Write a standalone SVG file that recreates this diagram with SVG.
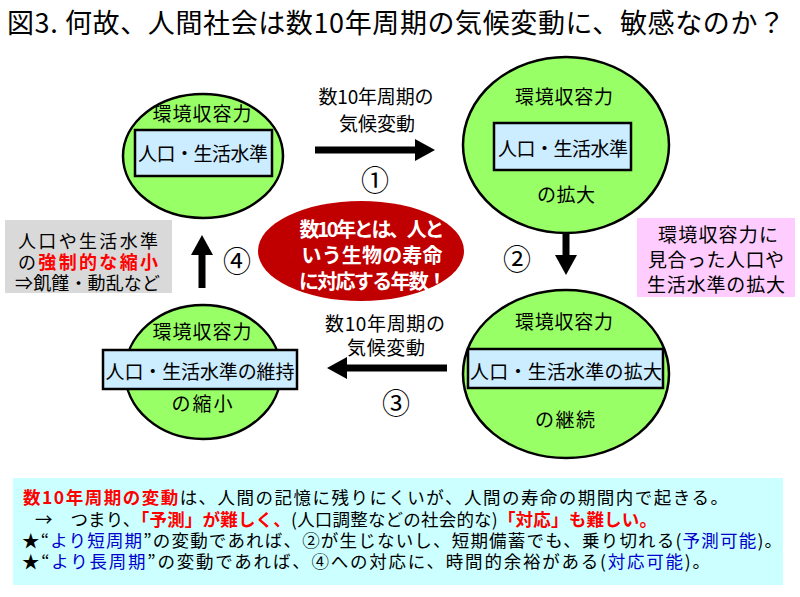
<svg xmlns="http://www.w3.org/2000/svg" width="800" height="597" viewBox="0 0 800 597">
<defs>
<style>
text{font-family:"Noto Sans CJK JP","Noto Sans CJK SC",sans-serif;dominant-baseline:central;fill:#000}
.c19{font-size:19px;text-anchor:middle}
.l19{font-size:19px}
.l18{font-size:18px}
.circ{fill:#99FF66;stroke:#000;stroke-width:2.5}
.box{fill:#CCECFF;stroke:#000;stroke-width:2.5}
.arr{stroke:#000;stroke-width:7;fill:none;marker-end:url(#ah)}
.num{font-size:28px;text-anchor:middle}
.red{fill:#FF0000;font-weight:bold}
.blue{fill:#0000CC}
.wb{fill:#fff;font-weight:bold;font-size:20px}
.bt{font-size:17.5px}
</style>
<marker id="ah" markerUnits="userSpaceOnUse" markerWidth="20" markerHeight="22" viewBox="0 0 20 22" refX="1" refY="11" orient="auto"><path d="M0,0L20,11L0,22z" fill="#000"/></marker>
</defs>
<rect width="800" height="597" fill="#fff"/>
<text x="7" y="21" font-size="27" textLength="778">図3. 何故、人間社会は数10年周期の気候変動に、敏感なのか？</text>

<g id="connectors">
<line class="arr" x1="315" y1="150" x2="416" y2="150"/>
<line class="arr" x1="566" y1="232" x2="566" y2="256"/>
<line class="arr" x1="447" y1="368" x2="346" y2="368"/>
<line class="arr" x1="202" y1="288" x2="202" y2="254"/>
<text class="c19" x="376" y="95" textLength="115">数10年周期の</text>
<text class="c19" x="377" y="122" textLength="76">気候変動</text>
<text class="c19" x="385" y="322" textLength="120">数10年周期の</text>
<text class="c19" x="386" y="346" textLength="78">気候変動</text>
<text class="num" x="375" y="179">①</text>
<text class="num" x="517" y="258">②</text>
<text class="num" x="396" y="402">③</text>
<text class="num" x="237" y="260">④</text>
</g>

<g id="node1">
<ellipse class="circ" cx="203" cy="156" rx="80" ry="62"/>
<rect class="box" x="135" y="130" width="137" height="46"/>
<text class="c19" x="202" y="112" textLength="99">環境収容力</text>
<text class="c19" x="203" y="152" textLength="130">人口・生活水準</text>
</g>

<g id="node2">
<ellipse class="circ" cx="566" cy="145" rx="103" ry="88"/>
<rect class="box" x="494" y="123" width="137" height="47"/>
<text class="c19" x="564" y="95" textLength="98">環境収容力</text>
<text class="c19" x="563" y="147" textLength="130">人口・生活水準</text>
<text class="c19" x="566" y="193" textLength="58">の拡大</text>
</g>

<g id="node3">
<ellipse class="circ" cx="566" cy="374" rx="103" ry="84"/>
<rect class="box" x="468" y="349" width="195" height="39"/>
<text class="c19" x="564" y="320" textLength="98">環境収容力</text>
<text class="c19" x="566" y="370" textLength="192">人口・生活水準の拡大</text>
<text class="c19" x="565" y="418" textLength="60">の継続</text>
</g>

<g id="node4">
<ellipse class="circ" cx="203" cy="372" rx="78" ry="67"/>
<rect class="box" x="103" y="350" width="194" height="39"/>
<text class="c19" x="202" y="330" textLength="99">環境収容力</text>
<text class="c19" x="200" y="370" textLength="189">人口・生活水準の維持</text>
<text class="c19" x="202" y="402" textLength="61">の縮小</text>
</g>

<g id="center-note">
<ellipse cx="361" cy="251" rx="103" ry="50" fill="#C00000"/>
<text class="wb" x="372" y="228" text-anchor="middle" textLength="145">数10年とは、人と</text>
<text class="wb" x="372" y="254" text-anchor="middle" textLength="141">いう生物の寿命</text>
<text class="wb" x="373" y="280" text-anchor="middle" textLength="148">に対応する年数！</text>
</g>

<g id="left-note">
<rect x="5" y="220" width="167" height="73" fill="#D9D9D9"/>
<text class="l18" x="18" y="240" textLength="140">人口や生活水準</text>
<text class="l18" x="18" y="261" textLength="140">の<tspan class="red">強制的な縮小</tspan></text>
<text class="l18" x="15" y="282" textLength="145">⇒飢饉・動乱など</text>
</g>

<g id="right-note">
<rect x="637" y="218" width="158" height="79" fill="#FFCCFF"/>
<text class="l19" x="658" y="233" textLength="120">環境収容力に</text>
<text class="l19" x="648" y="258" textLength="136">見合った人口や</text>
<text class="l19" x="647" y="283" textLength="138">生活水準の拡大</text>
</g>

<g id="bottom-note">
<rect x="13" y="478" width="770" height="107" fill="#CCFFFF"/>
<text class="bt" x="23" y="496" textLength="705"><tspan class="red">数10年周期の変動</tspan>は、人間の記憶に残りにくいが、人間の寿命の期間内で起きる。</text>
<text class="bt" x="35" y="518" textLength="622">→　つまり、<tspan class="red">「予測」が難しく、</tspan>(人口調整などの社会的な)<tspan class="red">「対応」も難しい。</tspan></text>
<text class="bt" x="22" y="539" textLength="760">★“<tspan class="blue">より短周期</tspan>”の変動であれば、②が生じないし、短期備蓄でも、乗り切れる(<tspan class="blue">予測可能</tspan>)。</text>
<text class="bt" x="22" y="560" textLength="688">★“<tspan class="blue">より長周期</tspan>”の変動であれば、④への対応に、時間的余裕がある(<tspan class="blue">対応可能</tspan>)。</text>
</g>
</svg>
